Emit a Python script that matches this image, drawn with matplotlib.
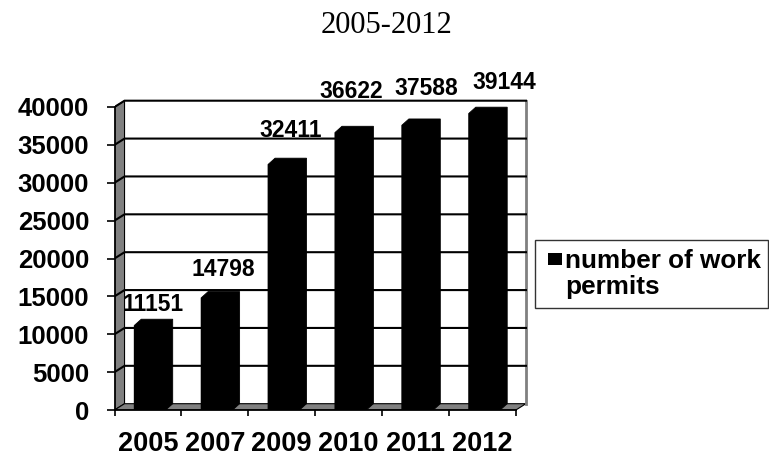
import matplotlib
matplotlib.use("Agg")
from matplotlib import pyplot as plt
from matplotlib.patches import Polygon, Rectangle

years = ["2005", "2007", "2009", "2010", "2011", "2012"]
permits = [11151, 14798, 32411, 36622, 37588, 39144]
y_ticks = list(range(0, 40001, 5000))

# where each value label sits, in pixels from the top-front centre of its bar
label_shift = [(3, 15), (6, 22), (7, 27), (1, 35), (9, 30), (20, 24)]

W, H, DPI = 769, 457, 100
PT = 72 / DPI

# fake 3-D depth of the walls and of the bars, in data units
wall_dx, wall_dy = 0.15, 832
bar_dx, bar_dy = 0.105, 832
bar_left, bar_right = 0.295, 0.765

fig = plt.figure(figsize=(W / DPI, H / DPI), dpi=DPI)
px_x = 66.9                 # pixels per category
px_y = 303 / 40000          # pixels per unit of value
x_max, y_max = 6.2, 41500
ax = fig.add_axes([114.5 / W, 47 / H, x_max * px_x / W, y_max * px_y / H])
ax.set_xlim(0, x_max)
ax.set_ylim(0, y_max)
ax.patch.set_visible(False)

n = len(years)
grey = "#808080"

# back wall, side wall and floor
ax.add_patch(Rectangle((wall_dx, wall_dy), n, 40000, facecolor="white",
                       edgecolor="none", zorder=0))
ax.add_patch(Polygon([(0, 0), (0, 40000), (wall_dx, 40000 + wall_dy), (wall_dx, wall_dy)],
                     closed=True, facecolor=grey, edgecolor="black", lw=0.8, zorder=1))
ax.add_patch(Polygon([(0, 0), (n, 0), (n + wall_dx, wall_dy), (wall_dx, wall_dy)],
                     closed=True, facecolor=grey, edgecolor="black", lw=0.8, zorder=1))
ax.plot([n + wall_dx, n + wall_dx], [wall_dy, 40000 + wall_dy], color=grey, lw=2, zorder=1)

# gridlines bend over the side wall onto the back wall
for v in y_ticks[1:]:
    ax.plot([0, wall_dx, n + wall_dx], [v, v + wall_dy, v + wall_dy],
            color="black", lw=1.5, zorder=2, solid_joinstyle="miter")

# bars: front face plus top and side faces, all black, drawn as one solid outline
for i, v in enumerate(permits):
    x0, x1 = i + bar_left, i + bar_right
    ax.bar(i + (bar_left + bar_right) / 2, v, width=x1 - x0, color="black",
           linewidth=0, zorder=3)
    ax.add_patch(Polygon([(x0, 0), (x0, v), (x0 + bar_dx, v + bar_dy), (x1 + bar_dx, v + bar_dy),
                          (x1 + bar_dx, bar_dy), (x1, 0)],
                         closed=True, facecolor="black", edgecolor="black", lw=0.6, zorder=3))
    sx, sy = label_shift[i]
    ax.annotate(str(v), xy=((x0 + x1) / 2, v), xytext=(sx * PT, sy * PT),
                textcoords="offset points", ha="center", va="baseline",
                fontsize=16.5, fontweight="bold", family="Liberation Sans",
                annotation_clip=False, zorder=5)

# axes
for side in ("top", "right"):
    ax.spines[side].set_visible(False)
ax.spines["left"].set_bounds(0, 40000)
ax.spines["bottom"].set_bounds(0, n)
for side in ("left", "bottom"):
    ax.spines[side].set_linewidth(1.3)
    ax.spines[side].set_zorder(4)

ax.set_yticks(y_ticks)
ax.set_yticklabels([str(t) for t in y_ticks])
ax.tick_params(axis="y", direction="out", length=8 * PT, width=1.2, pad=12.5,
               labelsize=18.5)
ax.set_xticks(range(n + 1))
ax.set_xticklabels([])
ax.set_xticks([i + 0.5 for i in range(n)], minor=True)
ax.set_xticklabels(years, minor=True)
ax.tick_params(axis="x", which="major", direction="out", length=6 * PT, width=1.2)
ax.tick_params(axis="x", which="minor", length=0, pad=15, labelsize=19.5)
for lbl in ax.get_yticklabels() + ax.get_xticklabels(minor=True):
    lbl.set_fontweight("bold")
    lbl.set_family("Liberation Sans")

# title
fig.text(386.5 / W, 1 - 33 / H, "2005-2012", ha="center", va="baseline",
         fontsize=22, family="Liberation Serif")

# legend box
fig.add_artist(Rectangle((535 / W, 1 - 308 / H), 233 / W, 68 / H, transform=fig.transFigure,
                         facecolor="white", edgecolor="#333333", lw=1))
fig.add_artist(Rectangle((548 / W, 1 - 265 / H), 14 / W, 12 / H, transform=fig.transFigure,
                         facecolor="black", edgecolor="none"))
fig.text(565 / W, 1 - 249 / H, "number of work\npermits", ha="left", va="top",
         fontsize=18.8, fontweight="bold", family="Liberation Sans", linespacing=1.12)

fig.savefig("out.png", dpi=DPI)
